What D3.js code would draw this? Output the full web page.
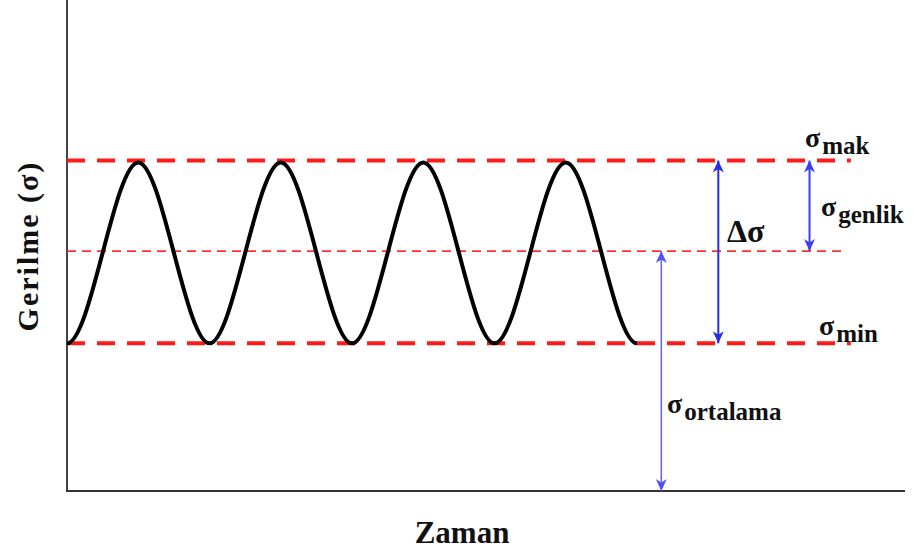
<!DOCTYPE html>
<html>
<head>
<meta charset="utf-8">
<script src="https://cdn.jsdelivr.net/npm/d3@7"></script>
<style>
  html, body { margin: 0; padding: 0; background: #fff; }
  svg { display: block; }
  text { font-family: "Liberation Serif", "Times New Roman", serif; font-weight: bold; fill: #111; }
</style>
</head>
<body>
<svg id="chart" width="913" height="553"></svg>
<script>
// ---- data ----
const waveTime   = [0, 0.5, 1, 1.5, 2, 2.5, 3, 3.5, 4];          // periods
const waveStress = [4, 8.9, 4, 8.9, 4, 8.9, 4, 8.9, 4];           // stress values
const sigmaMin = 4, sigmaMax = 8.95, sigmaMean = 6.5;
const refLineEnd = 5.5, meanLineEnd = 5.46;
const arrowOrtalamaT = 4.17, arrowDeltaT = 4.57, arrowGenlikT = 5.21;
const xLabel = "Zaman", yLabel = "Gerilme (σ)";

// ---- scales ----
const svg = d3.select("#chart");
const x = d3.scaleLinear().domain([0, 5.88]).range([67, 905]);
const y = d3.scaleLinear().domain([0, 13.3]).range([491, 0]);

// axes
svg.append("line").attr("x1", x(0)).attr("x2", x(0)).attr("y1", y(13.3)).attr("y2", y(0))
  .attr("stroke", "#444").attr("stroke-width", 2);
svg.append("line").attr("x1", x(0) - 1).attr("x2", x(5.88)).attr("y1", y(0)).attr("y2", y(0))
  .attr("stroke", "#333").attr("stroke-width", 2);

// reference lines
svg.append("line").attr("x1", x(0)).attr("x2", x(refLineEnd)).attr("y1", y(sigmaMax)).attr("y2", y(sigmaMax))
  .attr("stroke", "#ff1a1a").attr("stroke-width", 4).attr("stroke-dasharray", "18,12");
svg.append("line").attr("x1", x(0)).attr("x2", x(refLineEnd)).attr("y1", y(sigmaMin)).attr("y2", y(sigmaMin))
  .attr("stroke", "#ff1a1a").attr("stroke-width", 4).attr("stroke-dasharray", "18,12");
svg.append("line").attr("x1", x(0)).attr("x2", x(meanLineEnd)).attr("y1", y(sigmaMean)).attr("y2", y(sigmaMean))
  .attr("stroke", "#ff3030").attr("stroke-width", 1.8).attr("stroke-dasharray", "9,6");

// smooth wave curve: horizontal tangent at every data point (Hermite with zero slopes)
function CurveFlat(context) { this._context = context; }
CurveFlat.prototype = {
  areaStart() {},
  areaEnd() {},
  lineStart() { this._point = 0; },
  lineEnd() {},
  point(px, py) {
    px = +px; py = +py;
    if (this._point === 0) {
      this._point = 1;
      this._context.moveTo(px, py);
    } else {
      const dx = px - this._x0;
      this._context.bezierCurveTo(this._x0 + dx / 3, this._y0, px - dx / 3, py, px, py);
    }
    this._x0 = px; this._y0 = py;
  }
};
const curveFlat = (context) => new CurveFlat(context);

const pts = waveTime.map((t, i) => [t, waveStress[i]]);
svg.append("path").datum(pts)
  .attr("d", d3.line().x(d => x(d[0])).y(d => y(d[1])).curve(curveFlat))
  .attr("fill", "none").attr("stroke", "#000").attr("stroke-width", 4);

// arrow markers
const defs = svg.append("defs");
function marker(id, color) {
  defs.append("marker").attr("id", id).attr("viewBox", "-13 -7 14 14")
    .attr("refX", 0).attr("refY", 0).attr("markerWidth", 14).attr("markerHeight", 14)
    .attr("markerUnits", "userSpaceOnUse").attr("orient", "auto-start-reverse")
    .append("path").attr("d", "M0,0 L-12,-5.5 L-8.5,0 L-12,5.5 Z").attr("fill", color);
}
marker("mD", "#2a2ae8");
marker("mG", "#3c3cf0");
marker("mO", "#5050ff");

function arrow(t, v1, v2, color, mid, w) {
  svg.append("line").attr("x1", x(t)).attr("x2", x(t)).attr("y1", y(v1)).attr("y2", y(v2))
    .attr("stroke", color).attr("stroke-width", w)
    .attr("marker-start", `url(#${mid})`).attr("marker-end", `url(#${mid})`);
}
arrow(arrowDeltaT, sigmaMax, sigmaMin, "#2a2ae8", "mD", 2);
arrow(arrowGenlikT, sigmaMax, sigmaMean, "#3c3cf0", "mG", 2);
arrow(arrowOrtalamaT, sigmaMean, 0, "#6666ff", "mO", 1.6);

// labels
function sigmaLabel(px, py, sub) {
  const t = svg.append("text").attr("x", px).attr("y", py);
  t.append("tspan").attr("font-size", 28).text("σ");
  t.append("tspan").attr("font-size", 25).attr("dx", 2).attr("dy", 7).text(sub);
}
sigmaLabel(805, 147, "mak");
sigmaLabel(821, 216, "genlik");
sigmaLabel(819, 335, "min");
sigmaLabel(667, 413, "ortalama");

svg.append("text").attr("x", 727).attr("y", 242).attr("font-size", 32).text("Δσ");

svg.append("text").attr("x", 462).attr("y", 543).attr("text-anchor", "middle")
  .attr("font-size", 31).text(xLabel);
svg.append("text").attr("transform", "translate(38,246) rotate(-90)").attr("text-anchor", "middle")
  .attr("font-size", 30).attr("letter-spacing", 2).text(yLabel);
</script>
</body>
</html>
